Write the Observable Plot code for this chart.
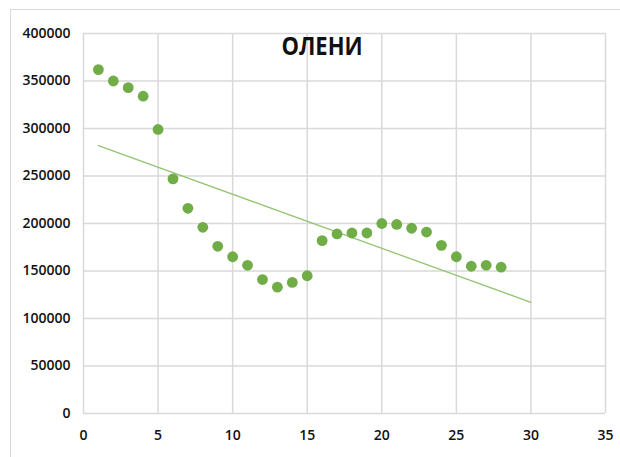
<!DOCTYPE html>
<html>
<head>
<meta charset="utf-8">
<script src="https://cdn.jsdelivr.net/npm/d3@7"></script>
<script src="https://cdn.jsdelivr.net/npm/@observablehq/plot@0.6"></script>
<style>
  html, body { margin: 0; padding: 0; background: #fff; }
  #wrap { position: relative; width: 620px; height: 457px; overflow: hidden; }
  #frame { position: absolute; left: 10px; top: 9px; width: 800px; height: 600px;
           border-left: 1.5px solid #d9d9d9; border-top: 1.5px solid #d9d9d9; }
  #title { position: absolute; top: 28px; left: 222px; width: 200px; text-align: center;
           font-family: "Open Sans", sans-serif; font-weight: 700; font-size: 22px; color: #111;
           transform: scaleY(1.12); transform-origin: center top; }
  #chart { position: absolute; left: 0; top: 0; }
</style>
</head>
<body>
<div id="wrap">
  <div id="frame"></div>
  <div id="chart"></div>
  <div id="title">ОЛЕНИ</div>
</div>
<script>
const years = [1,2,3,4,5,6,7,8,9,10,11,12,13,14,15,16,17,18,19,20,21,22,23,24,25,26,27,28];
const deer = [362000,350000,343000,334000,299000,247000,216000,196000,176000,165000,156000,141000,133000,138000,145000,182000,189000,190000,190000,200000,199000,195000,191000,177000,165000,155000,156000,154000];
const xTicks = [0,5,10,15,20,25,30,35];
const yTicks = [0,50000,100000,150000,200000,250000,300000,350000,400000];
const trendRange = [1, 30];

const data = years.map((x, i) => ({x, y: deer[i]}));

// least-squares linear trend
const mx = d3.mean(years), my = d3.mean(deer);
const slope = d3.sum(data, d => (d.x - mx) * (d.y - my)) / d3.sum(data, d => (d.x - mx) ** 2);
const intercept = my - slope * mx;
const trend = trendRange.map(x => ({x, y: intercept + slope * x}));

const chart = Plot.plot({
  width: 620,
  height: 457,
  marginLeft: 83,
  marginRight: 15,
  marginTop: 33,
  marginBottom: 44,
  style: { fontFamily: "'Open Sans', sans-serif", fontSize: "14px", fontWeight: 600, color: "#111", background: "transparent" },
  x: { domain: [0, 35], ticks: xTicks, tickSize: 0, tickPadding: 17, label: null },
  y: { domain: [0, 400000], ticks: yTicks, tickSize: 0, tickPadding: 13, label: null, tickFormat: d => String(d) },
  marks: [
    Plot.gridX(xTicks, { stroke: "#d9d9d9", strokeOpacity: 1, strokeWidth: 1.5 }),
    Plot.gridY(yTicks, { stroke: "#d9d9d9", strokeOpacity: 1, strokeWidth: 1.5 }),
    Plot.line(trend, { x: "x", y: "y", stroke: "#93c572", strokeWidth: 1.3 }),
    Plot.dot(data, { x: "x", y: "y", r: 5.4, fill: "#70ad47", stroke: "none" })
  ]
});
document.getElementById("chart").appendChild(chart);
</script>
</body>
</html>
